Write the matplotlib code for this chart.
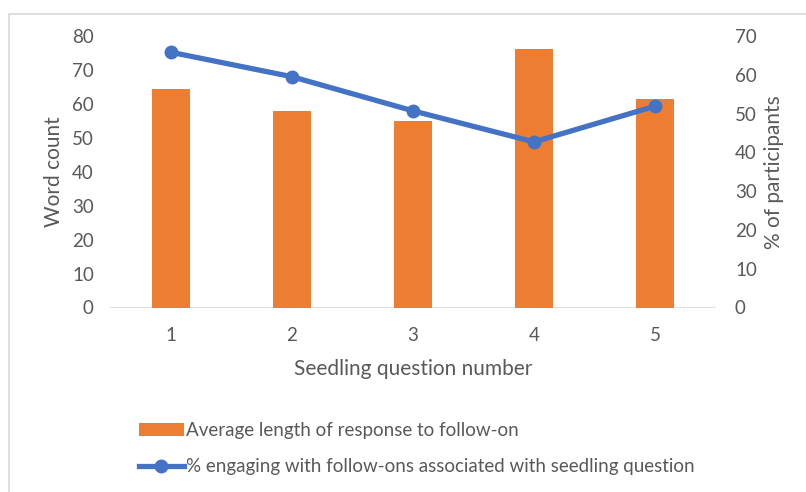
import matplotlib
matplotlib.use("Agg")
import matplotlib.pyplot as plt
from matplotlib.lines import Line2D
from matplotlib.patches import Patch

# Data
questions = [1, 2, 3, 4, 5]
avg_length = [64.4, 57.9, 55.0, 76.3, 61.3]
pct_engaging = [65.8, 59.5, 50.7, 42.7, 51.9]
left_ticks = [0, 10, 20, 30, 40, 50, 60, 70, 80]
right_ticks = [0, 10, 20, 30, 40, 50, 60, 70]

bar_label = "Average length of response to follow-on"
line_label = "% engaging with follow-ons associated with seedling question"

TEXT = "#595959"
ORANGE = "#ED7D31"
BLUE = "#4472C4"
FONT = "Lato"

plt.rcParams["font.family"] = [FONT, "DejaVu Sans"]

W, H = 806, 492
fig = plt.figure(figsize=(W / 100, H / 100), dpi=100)
fig.patch.set_facecolor("white")

# outer chart frame
fig.add_artist(Line2D([9 / W, 9 / W], [0, 1 - 14 / H], transform=fig.transFigure,
                      color="#d9d9d9", lw=1.2))
fig.add_artist(Line2D([9 / W, 1], [1 - 14 / H, 1 - 14 / H], transform=fig.transFigure,
                      color="#d9d9d9", lw=1.2))

left, right = 110.5 / W, 715.5 / W
bottom, top = 1 - 307.5 / H, 1 - 36 / H
ax = fig.add_axes([left, bottom, right - left, top - bottom])
ax2 = ax.twinx()

ax.bar(questions, avg_length, width=0.31, color=ORANGE, zorder=2)
ax2.plot(questions, pct_engaging, color=BLUE, lw=3.8, marker="o", markersize=9,
         solid_capstyle="round", zorder=3)

ax.set_xlim(0.5, 5.5)
ax.set_ylim(0, 80)
ax2.set_ylim(0, 70)
ax.set_xticks(questions)
ax.set_yticks(left_ticks)
ax2.set_yticks(right_ticks)

for a in (ax, ax2):
    for s in a.spines.values():
        s.set_visible(False)
ax.axhline(0, color="#d9d9d9", lw=1.2, zorder=1)

ax.tick_params(axis="both", length=0, labelsize=13.5, labelcolor=TEXT)
ax.tick_params(axis="y", pad=12)
ax.tick_params(axis="x", pad=14)
ax2.tick_params(axis="y", length=0, labelsize=13.5, labelcolor=TEXT, pad=14)

ax.set_xlabel("Seedling question number", fontsize=15, color=TEXT, labelpad=11)
ax.set_ylabel("Word count", fontsize=15, color=TEXT, labelpad=6)
ax2.set_ylabel("% of participants", fontsize=15, color=TEXT, labelpad=5)

handles = [
    Patch(facecolor=ORANGE, edgecolor="none"),
    Line2D([0], [0], color=BLUE, lw=3.8, marker="o", markersize=9),
]
leg = fig.legend(handles, [bar_label, line_label], loc="upper left",
                 bbox_to_anchor=(131 / W, 1 - 414.5 / H), frameon=False,
                 fontsize=13.5, labelcolor=TEXT, handlelength=2.4,
                 handletextpad=0.15, labelspacing=1.02, borderaxespad=0)

fig.savefig("out.png", dpi=100, facecolor="white")
